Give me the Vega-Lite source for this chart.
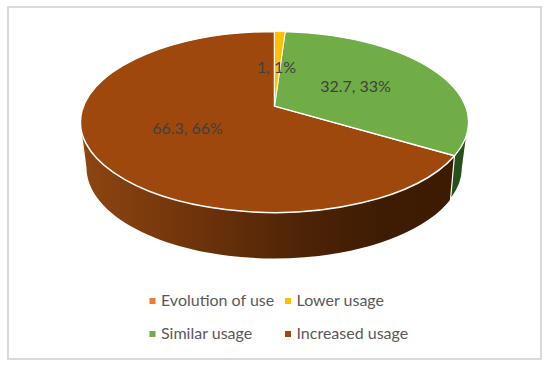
{"$schema":"https://vega.github.io/schema/vega-lite/v6.json","width":533,"height":352,"padding":{"left":8,"top":7,"right":9,"bottom":7},"autosize":{"type":"none"},"background":"white","view":{"stroke":"#d9d9d9","strokeWidth":2},"config":{"text":{"font":"Lato"}},"data":{"values":[{"category":"Evolution of use","value":0,"label":""},{"category":"Lower usage","value":1,"label":"1, 1%"},{"category":"Similar usage","value":32.7,"label":"32.7, 33%"},{"category":"Increased usage","value":66.3,"label":"66.3, 66%"}]},"layer":[{"transform":[{"filter":"datum.category==='Increased usage'"}],"mark":{"type":"point","filled":true,"opacity":1,"size":4,"shape":"M180,-27.3 A194,90.5 0 0 1 -194,-61 L-188,-15.5 A188,91 0 0 0 176,16.5 Z","strokeWidth":0,"fill":{"gradient":"linear","x1":0,"y1":0,"x2":1,"y2":0,"stops":[{"offset":0,"color":"#8e4511"},{"offset":0.3,"color":"#6f340b"},{"offset":0.58,"color":"#4f2407"},{"offset":0.8,"color":"#3e1c03"},{"offset":1,"color":"#3c1b02"}]}}},{"transform":[{"filter":"datum.category==='Similar usage'"}],"mark":{"type":"point","filled":true,"opacity":1,"size":4,"shape":"M180,-27.3 A194,90.5 0 0 0 194,-61 L188,-15.5 A188,91 0 0 1 176,16.5 Z","fill":"#28501d","stroke":"white","strokeWidth":1.2}},{"transform":[{"filter":"datum.category==='Increased usage'"}],"mark":{"type":"point","filled":true,"opacity":1,"size":4,"shape":"M0,-77 L180,-27.3 A194,90.5 0 1 1 0,-151.5 Z","stroke":"white","strokeWidth":1.5},"encoding":{"color":{"field":"category","type":"nominal","scale":{"domain":["Evolution of use","Lower usage","Similar usage","Increased usage"],"range":["#ED7D31","#FFC000","#70AD47","#9E480E"]},"sort":null,"legend":{"title":null,"orient":"none","legendX":136.5,"legendY":286,"columns":2,"direction":"horizontal","symbolType":"square","symbolSize":36,"symbolStrokeWidth":0,"labelFont":"Lato","labelFontSize":16,"labelColor":"#595959","rowPadding":17,"columnPadding":4.5,"labelOffset":0.5,"labelLimit":200}}}},{"transform":[{"filter":"datum.category==='Similar usage'"}],"mark":{"type":"point","filled":true,"opacity":1,"size":4,"shape":"M0,-77 L10.7,-151.36 A194,90.5 0 0 1 180,-27.3 Z","stroke":"white","strokeWidth":1.2},"encoding":{"color":{"field":"category","type":"nominal","scale":{"domain":["Evolution of use","Lower usage","Similar usage","Increased usage"],"range":["#ED7D31","#FFC000","#70AD47","#9E480E"]},"sort":null}}},{"transform":[{"filter":"datum.category==='Lower usage'"}],"mark":{"type":"point","filled":true,"opacity":1,"size":4,"shape":"M0,-77 L0,-151.5 A194,90.5 0 0 1 10.7,-151.36 Z","stroke":"white","strokeWidth":0.8},"encoding":{"color":{"field":"category","type":"nominal","scale":{"domain":["Evolution of use","Lower usage","Similar usage","Increased usage"],"range":["#ED7D31","#FFC000","#70AD47","#9E480E"]},"sort":null}}},{"transform":[{"filter":"datum.category==='Lower usage'"}],"mark":{"type":"text","font":"Lato","fontSize":16,"color":"#404040","xOffset":2,"yOffset":-115},"encoding":{"text":{"field":"label"}}},{"transform":[{"filter":"datum.category==='Similar usage'"}],"mark":{"type":"text","font":"Lato","fontSize":16,"color":"#404040","xOffset":81,"yOffset":-96},"encoding":{"text":{"field":"label"}}},{"transform":[{"filter":"datum.category==='Increased usage'"}],"mark":{"type":"text","font":"Lato","fontSize":16,"color":"#404040","xOffset":-87,"yOffset":-54},"encoding":{"text":{"field":"label"}}}]}
